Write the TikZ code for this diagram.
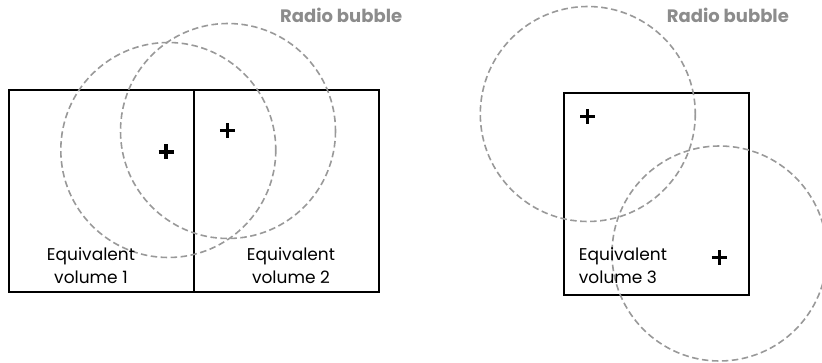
\documentclass[tikz,border=0pt]{standalone}
\usepackage{fontspec}
\setmainfont{Poppins}
\usetikzlibrary{calc}
\definecolor{bubblegray}{HTML}{999999}
\definecolor{labelgray}{HTML}{8C8C8C}
\tikzset{
  volbox/.style={draw=black, line width=2pt},
  bubble/.style={draw=bubblegray, line width=1.6pt, dash pattern=on 6.5pt off 3.5pt},
  pluscross/.style={line width=3.2pt, black},
  vollabel/.style={font=\fontsize{17}{23}\selectfont, text=black, inner sep=0pt},
  bubblelabel/.style={font=\fontsize{18}{20}\selectfont\bfseries, text=labelgray, inner sep=0pt},
}
\newcommand{\plusmark}[1]{%
  \draw[pluscross] ($(#1)+(-7.5,0)$) -- ($(#1)+(7.5,0)$);
  \draw[pluscross] ($(#1)+(0,-7.5)$) -- ($(#1)+(0,7.5)$);}
\begin{document}
\begin{tikzpicture}[x=1pt,y=-1pt]
\useasboundingbox (0,0) rectangle (822,363);
% left group
\node[volbox, minimum width=184.7pt, minimum height=202pt, inner sep=0pt, anchor=north west] (v1) at (8,89.3) {};
\node[volbox, minimum width=185.3pt, minimum height=202pt, inner sep=0pt, anchor=north west] (v2) at (192.7,89.3) {};
\coordinate (c1) at (168.3,150);
\coordinate (c2) at (228,131);
\draw[bubble] (c1) circle[radius=107.5];
\draw[bubble] (c2) circle[radius=107.5];
\coordinate (p1) at (166,152);
\coordinate (p2) at (227.3,130.7);
\plusmark{p1}
\plusmark{p2}
\node[vollabel, align=center] (t1) at (91,265.5) {Equivalent\\volume 1};
\node[vollabel, align=center] (t2) at (291,265.5) {Equivalent\\volume 2};
\node[bubblelabel, anchor=west] (r1) at (280,15) {Radio bubble};
% right group
\node[volbox, minimum width=185pt, minimum height=201.4pt, inner sep=0pt, anchor=north west] (v3) at (563,92.3) {};
\coordinate (c3) at (587.8,114);
\coordinate (c4) at (719.5,253.5);
\draw[bubble] (c3) circle[radius=107.5];
\draw[bubble] (c4) circle[radius=107.5];
\coordinate (p3) at (587.7,116.7);
\coordinate (p4) at (719.3,257.7);
\plusmark{p3}
\plusmark{p4}
\node[vollabel, align=left, anchor=west] (t3) at (578.7,265.5) {Equivalent\\volume 3};
\node[bubblelabel, anchor=west] (r2) at (666.7,15) {Radio bubble};
\end{tikzpicture}
\end{document}
